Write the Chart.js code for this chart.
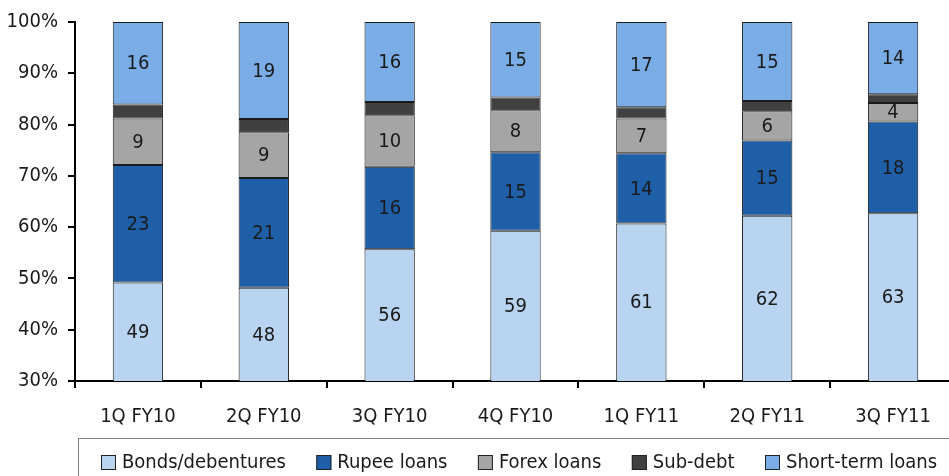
<!DOCTYPE html>
<html>
<head>
<meta charset="utf-8">
<script src="https://cdn.jsdelivr.net/npm/chart.js@4"></script>
<style>
    html, body { margin: 0; padding: 0; background: #fff; overflow: hidden; }
    #wrap { width: 949px; height: 476px; overflow: hidden; }
</style>
</head>
<body>
<div id="wrap"><canvas id="fundChart" width="956" height="476"></canvas></div>
<script>
const quarters = ["1Q FY10", "2Q FY10", "3Q FY10", "4Q FY10", "1Q FY11", "2Q FY11", "3Q FY11"];
const bonds = [49.2, 48.2, 55.7, 59.3, 60.7, 62.2, 62.7];
const rupeeLoans = [22.9, 21.4, 16.1, 15.3, 13.7, 14.7, 17.9];
const forexLoans = [9.1, 8.9, 10.0, 8.2, 6.8, 5.7, 3.6];
const subDebt = [2.7, 2.6, 2.6, 2.5, 2.2, 2.0, 1.7];
const shortTerm = [16.1, 18.9, 15.6, 14.7, 16.6, 15.4, 14.1];
const yTicks = [30, 40, 50, 60, 70, 80, 90, 100];

const FONT = '"Liberation Sans Narrow", "Arial Narrow", "DejaVu Sans Condensed", sans-serif';
const FSIZE = 20;
const TEXT = "#1a1a1a";

document.addEventListener("DOMContentLoaded", () => {
    const ctx = document.getElementById("fundChart").getContext("2d");

    // value labels in the middle of each segment (not on sub-debt)
    const segmentLabels = {
        id: "segmentLabels",
        afterDatasetsDraw(chart) {
            const c = chart.ctx;
            const area = chart.chartArea;
            c.save();
            c.font = FSIZE + "px " + FONT;
            c.fillStyle = TEXT;
            c.textAlign = "center";
            c.textBaseline = "middle";
            chart.data.datasets.forEach((ds, i) => {
                if (ds.noLabel) return;
                chart.getDatasetMeta(i).data.forEach((bar, j) => {
                    const top = Math.max(bar.y, area.top);
                    const bottom = Math.min(bar.base, area.bottom);
                    c.fillText(Math.round(ds.data[j]), bar.x, (top + bottom) / 2 + 1);
                });
            });
            c.restore();
        }
    };

    // legend drawn by hand inside a grey frame, spread from x=101 to x=937
    const boxedLegend = {
        id: "boxedLegend",
        afterDraw(chart) {
            const c = chart.ctx;
            const sets = chart.data.datasets;
            c.save();
            c.strokeStyle = "#7f7f7f";
            c.lineWidth = 1;
            c.strokeRect(78.5, 438.5, 900, 60);
            c.font = FSIZE + "px " + FONT;
            c.textBaseline = "middle";
            const widths = sets.map(ds => c.measureText(ds.label).width);
            const used = widths.reduce((a, b) => a + b, 0) + sets.length * 21;
            const gap = (836 - used) / (sets.length - 1);
            let x = 101;
            const y = 462;
            sets.forEach((ds, i) => {
                c.fillStyle = ds.backgroundColor;
                c.fillRect(x, y - 7, 15, 15);
                c.strokeStyle = "#222";
                c.strokeRect(x + 0.5, y - 6.5, 14, 14);
                c.fillStyle = TEXT;
                c.fillText(ds.label, x + 21, y + 1);
                x += 21 + widths[i] + gap;
            });
            c.restore();
        }
    };

    const makeSet = (label, data, color, noLabel) => ({
        label, data, noLabel,
        backgroundColor: color,
        borderColor: "#1a1a1a",
        borderWidth: 1,
        borderSkipped: false,
        categoryPercentage: 1,
        barPercentage: 0.4
    });

    new Chart(ctx, {
        type: "bar",
        data: {
            labels: quarters,
            datasets: [
                makeSet("Bonds/debentures", bonds, "#b8d4f0", false),
                makeSet("Rupee loans", rupeeLoans, "#1f5fa8", false),
                makeSet("Forex loans", forexLoans, "#a5a5a5", false),
                makeSet("Sub-debt", subDebt, "#404040", true),
                makeSet("Short-term loans", shortTerm, "#7aace6", false)
            ]
        },
        options: {
            responsive: false,
            animation: false,
            layout: { padding: { top: 14, left: 8, right: 0, bottom: 30 } },
            plugins: {
                legend: { display: false },
                tooltip: { enabled: false }
            },
            scales: {
                x: {
                    stacked: true,
                    border: { color: "#000", width: 2 },
                    grid: { offset: true, drawOnChartArea: false, tickLength: 7, color: "#000", lineWidth: 2 },
                    ticks: { color: TEXT, font: { family: FONT, size: FSIZE }, padding: 17, maxRotation: 0 }
                },
                y: {
                    stacked: true,
                    min: yTicks[0],
                    max: yTicks[yTicks.length - 1],
                    afterBuildTicks: scale => { scale.ticks = yTicks.map(v => ({ value: v })); },
                    afterFit: scale => { scale.width = 67; },
                    border: { color: "#000", width: 2 },
                    grid: { drawOnChartArea: false, tickLength: 7, color: "#000", lineWidth: 2 },
                    ticks: { color: TEXT, font: { family: FONT, size: FSIZE }, padding: 10, callback: v => v + "%" }
                }
            }
        },
        plugins: [segmentLabels, boxedLegend]
    });
});
</script>
</body>
</html>
